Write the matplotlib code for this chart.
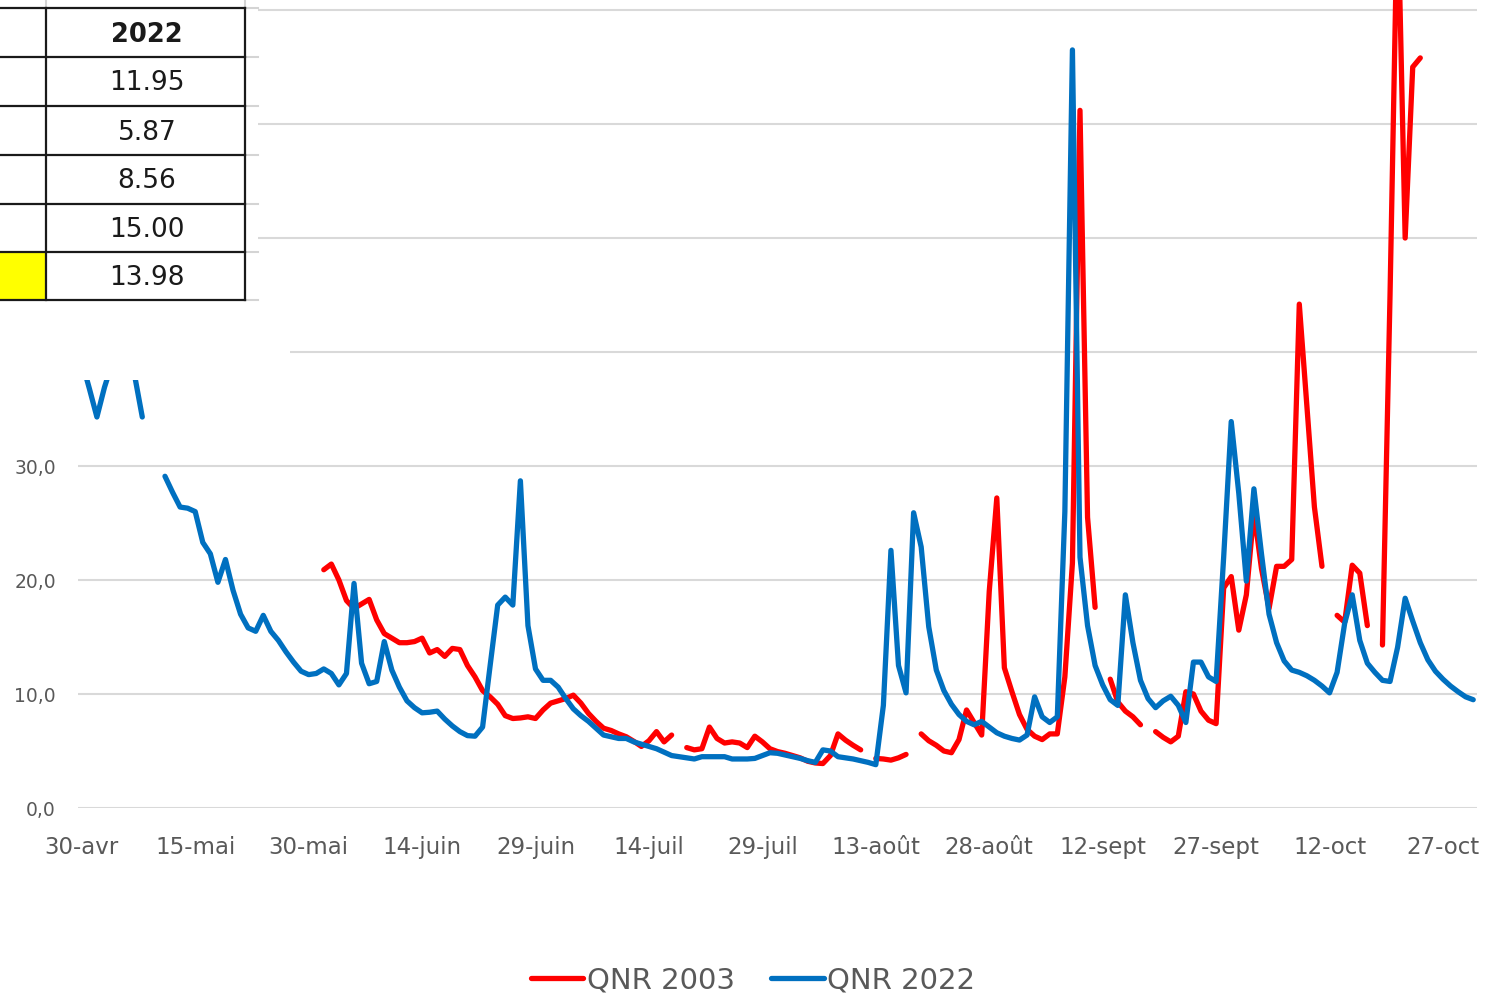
import numpy as np
import matplotlib
matplotlib.use("Agg")
import matplotlib.pyplot as plt
from matplotlib.patches import Rectangle
from matplotlib.lines import Line2D

nan = np.nan

# jours depuis le 30 avril (0 .. 184 = 31 oct)
qnr_2022 = [
    39.2, 36.8, 34.3, 36.9, 39.0, 40.0, 40.5, 37.9, 34.3, nan,
    nan, 29.1, 27.7, 26.4, 26.3, 26.0, 23.3, 22.3, 19.8, 21.8,
    19.1, 17.0, 15.8, 15.5, 16.9, 15.5, 14.7, 13.7, 12.8, 12.0,
    11.7, 11.8, 12.2, 11.8, 10.8, 11.8, 19.7, 12.7, 10.9, 11.1,
    14.6, 12.1, 10.6, 9.4, 8.8, 8.35, 8.4, 8.5, 7.8, 7.2,
    6.7, 6.35, 6.3, 7.1, 12.5, 17.8, 18.5, 17.8, 28.7, 16.0,
    12.2, 11.2, 11.2, 10.6, 9.6, 8.7, 8.1, 7.6, 7.0, 6.4,
    6.25, 6.1, 6.1, 5.8, 5.6, 5.4, 5.2, 4.9, 4.6, 4.5,
    4.4, 4.3, 4.5, 4.5, 4.5, 4.5, 4.3, 4.3, 4.3, 4.35,
    4.6, 4.85, 4.8, 4.65, 4.5, 4.35, 4.15, 4.0, 5.1, 5.0,
    4.5, 4.4, 4.3, 4.15, 4.0, 3.8, 9.0, 22.6, 12.5, 10.1,
    25.9, 22.9, 15.9, 12.1, 10.3, 9.1, 8.2, 7.6, 7.3, 7.6,
    7.1, 6.6, 6.3, 6.1, 5.96, 6.4, 9.75, 8.0, 7.5, 8.0,
    26.0, 66.5, 22.0, 16.0, 12.5, 10.8, 9.5, 9.0, 18.7, 14.5,
    11.2, 9.6, 8.8, 9.4, 9.8, 9.0, 7.5, 12.8, 12.8, 11.5,
    11.1, 22.0, 33.9, 27.6, 19.9, 28.0, 22.3, 17.0, 14.5, 12.9,
    12.1, 11.9, 11.6, 11.2, 10.7, 10.1, 11.9, 16.2, 18.7, 14.7,
    12.7, 11.9, 11.2, 11.1, 14.1, 18.4, 16.4, 14.5, 13.0, 12.0,
    11.3, 10.7, 10.2, 9.75, 9.5,
]

qnr_2003 = [nan] * 32 + [
    20.9, 21.4, 20.0, 18.2, 17.5, 17.9, 18.3, 16.5,
    15.3, 14.9, 14.5, 14.5, 14.6, 14.9, 13.6, 13.9, 13.3, 14.0,
    13.9, 12.5, 11.5, 10.3, 9.75, 9.1, 8.1, 7.85, 7.9, 8.0,
    7.85, 8.6, 9.2, 9.4, 9.6, 9.9, 9.2, 8.3, 7.6, 7.0,
    6.8, 6.5, 6.25, 5.85, 5.4, 5.9, 6.7, 5.8, 6.4, nan,
    5.3, 5.1, 5.2, 7.1, 6.1, 5.7, 5.8, 5.7, 5.3, 6.3,
    5.8, 5.2, 4.95, 4.8, 4.6, 4.4, 4.1, 3.95, 3.9, 4.6,
    6.5, 5.95, 5.5, 5.1, nan, 4.35, 4.3, 4.2, 4.4, 4.7,
    nan, 6.5, 5.9, 5.5, 5.0, 4.85, 6.0, 8.6, 7.5, 6.4,
    19.0, 27.2, 12.3, 10.2, 8.2, 6.9, 6.3, 6.0, 6.5, 6.5,
    11.5, 21.5, 61.2, 25.5, 17.6, nan, 11.3, 9.3, 8.5, 8.0,
    7.3, nan, 6.7, 6.2, 5.8, 6.3, 10.2, 10.0, 8.5, 7.7,
    7.4, 19.3, 20.3, 15.6, 18.7, 26.0, 21.0, 17.5, 21.2, 21.2,
    21.8, 44.2, 35.3, 26.4, 21.2, nan, 16.9, 16.3, 21.3, 20.6,
    16.0, nan, 14.3, 45.0, 80.0, 50.0, 65.0, 65.8, nan, nan,
    nan, nan, nan, nan, nan,
]

tick_days = list(range(0, 181, 15))
tick_labels = ["30-avr", "15-mai", "30-mai", "14-juin", "29-juin", "14-juil",
               "29-juil", "13-août", "28-août", "12-sept", "27-sept", "12-oct", "27-oct"]
y_ticks = [0, 10, 20, 30, 40, 50, 60, 70]

table_header = "2022"
table_values = ["11.95", "5.87", "8.56", "15.00", "13.98"]

W, H = 1487, 993
fig = plt.figure(figsize=(W / 100, H / 100), dpi=100)


def fx(x):
    return x / W


def fy(y):
    return 1 - y / H


ax = fig.add_axes([fx(78), fy(808), (1477 - 78) / W, 808 / H])
days = np.arange(len(qnr_2022))
ax.plot(days, qnr_2003, color="#FF0000", lw=3.8, solid_capstyle="round",
        solid_joinstyle="round", label="QNR 2003", zorder=3)
ax.plot(days, qnr_2022, color="#0070C0", lw=3.8, solid_capstyle="round",
        solid_joinstyle="round", label="QNR 2022", zorder=4)

ax.set_xlim(-0.5, 184.5)
ax.set_ylim(0, 70.88)
ax.set_xticks(tick_days)
ax.set_xticklabels(tick_labels)
ax.set_yticks(y_ticks)
ax.set_yticklabels([f"{v},0" for v in y_ticks])
ax.tick_params(axis="x", length=0, pad=20, labelsize=16.5, labelcolor="#595959")
ax.tick_params(axis="y", length=0, pad=16, labelsize=13.5, labelcolor="#595959")
ax.grid(axis="y", color="#d9d9d9", lw=1.5)
ax.set_axisbelow(True)
for s in ax.spines.values():
    s.set_visible(False)

fig.legend(loc="center", bbox_to_anchor=(0.5065, fy(980)), ncol=2, frameon=False,
           fontsize=21, labelcolor="#595959", handlelength=1.8, handletextpad=0.12,
           columnspacing=1.25, borderpad=0)

# zone blanche (capture de la feuille excel)
fig.add_artist(Rectangle((0, fy(380)), fx(258), 380 / H, transform=fig.transFigure,
                         facecolor="white", edgecolor="none", zorder=10))
fig.add_artist(Rectangle((fx(258), fy(380)), fx(32), 80 / H, transform=fig.transFigure,
                         facecolor="white", edgecolor="none", zorder=10))

# quadrillage excel
row_y = [8, 57, 106, 155, 204, 252, 300]
for y in row_y:
    fig.add_artist(Line2D([fx(245), fx(258)], [fy(y), fy(y)], color="#d4d4d4", lw=1.5, zorder=11))
for x in [46, 245]:
    fig.add_artist(Line2D([fx(x), fx(x)], [fy(0), fy(8)], color="#d4d4d4", lw=1.5, zorder=11))

# tableau
fig.add_artist(Rectangle((0, fy(300)), fx(46), 48 / H, transform=fig.transFigure,
                         facecolor="#FFFF00", edgecolor="none", zorder=11))
for y in row_y:
    fig.add_artist(Line2D([0, fx(245)], [fy(y), fy(y)], color="#1a1a1a", lw=1.6, zorder=12))
for x in [46, 245]:
    fig.add_artist(Line2D([fx(x), fx(x)], [fy(8), fy(300)], color="#1a1a1a", lw=1.6, zorder=12))

fig.text(fx(147), fy(35), table_header, ha="center", va="center", fontsize=18.5,
         fontweight="bold", color="#1a1a1a", zorder=13)
for i, v in enumerate(table_values):
    yc = (row_y[i + 1] + row_y[i + 2]) / 2 + 2
    fig.text(fx(147), fy(yc), v, ha="center", va="center", fontsize=19,
             color="#1a1a1a", zorder=13)

fig.savefig("out.png", dpi=100)
